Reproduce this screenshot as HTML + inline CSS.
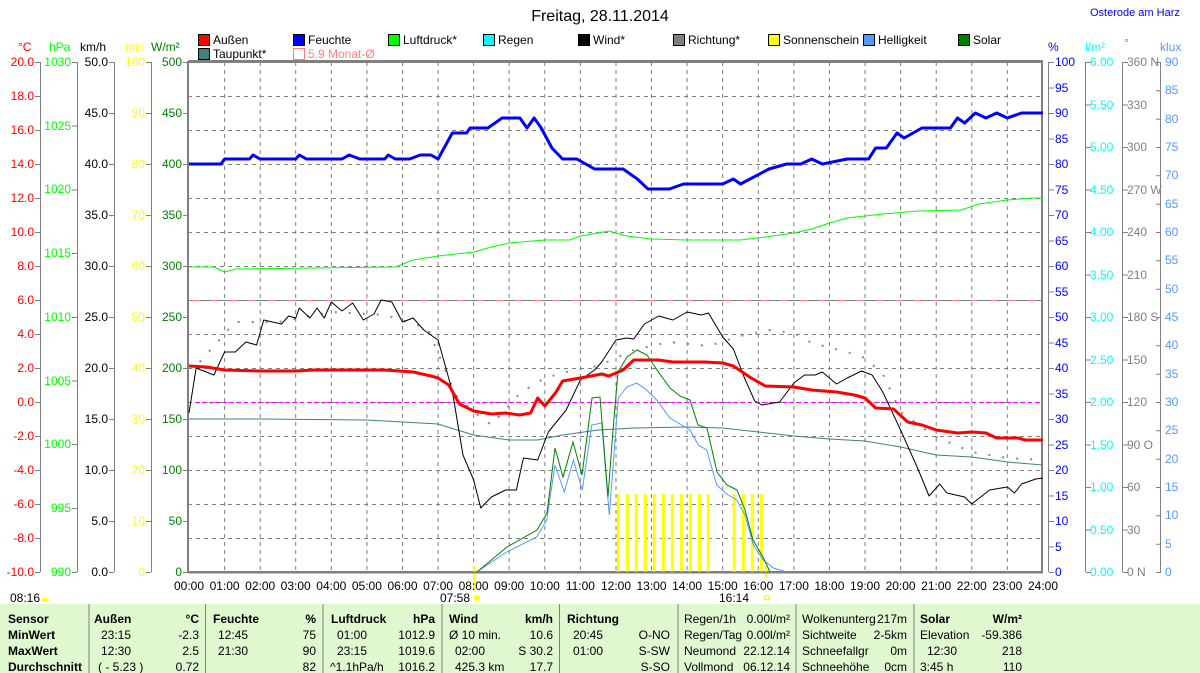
<!DOCTYPE html>
<html><head><meta charset="utf-8"><style>
html,body{margin:0;padding:0;background:#fff;width:1200px;height:673px;overflow:hidden}
svg{display:block;font-family:"Liberation Sans",sans-serif;font-size:12px}
.b{font-weight:bold}
</style></head><body>
<svg width="1200" height="673" viewBox="0 0 1200 673" xmlns="http://www.w3.org/2000/svg">
<text x="600" y="21" text-anchor="middle" font-size="16">Freitag, 28.11.2014</text>
<text x="1090" y="16" fill="#0000ff" font-size="11">Osterode am Harz</text>

<!-- legend -->
<g stroke="#000" stroke-width="1">
<rect x="198.5" y="34.5" width="11" height="11" fill="#ff0000"/>
<rect x="293.5" y="34.5" width="11" height="11" fill="#0000ff"/>
<rect x="388.5" y="34.5" width="11" height="11" fill="#00ff00"/>
<rect x="483.5" y="34.5" width="11" height="11" fill="#00ffff"/>
<rect x="578.5" y="34.5" width="11" height="11" fill="#000"/>
<rect x="673.5" y="34.5" width="11" height="11" fill="#808080"/>
<rect x="768.5" y="34.5" width="11" height="11" fill="#ffff00"/>
<rect x="863.5" y="34.5" width="11" height="11" fill="#5599ff"/>
<rect x="958.5" y="34.5" width="11" height="11" fill="#008000"/>
<rect x="198.5" y="48.5" width="11" height="11" fill="#408080"/>
</g>
<rect x="293.5" y="48.5" width="11" height="11" fill="none" stroke="#ff8080"/>
<g font-size="12">
<text x="213" y="44">Außen</text><text x="308" y="44">Feuchte</text><text x="403" y="44">Luftdruck*</text>
<text x="498" y="44">Regen</text><text x="593" y="44">Wind*</text><text x="688" y="44">Richtung*</text>
<text x="783" y="44">Sonnenschein</text><text x="878" y="44">Helligkeit</text><text x="973" y="44">Solar</text>
<text x="213" y="58">Taupunkt*</text><text x="308" y="58" fill="#ff8080">5.9 Monat-Ø</text>
</g>

<!-- axis headers -->
<text x="18" y="51" fill="#ff0000">°C</text>
<text x="49" y="51" fill="#00ff00">hPa</text>
<text x="80" y="51">km/h</text>
<text x="125" y="51" fill="#ffff00">min</text>
<text x="151" y="51" fill="#008000">W/m²</text>
<text x="1048" y="51" fill="#0000ff">%</text>
<text x="1085" y="51" fill="#00ffff">l/m²</text>
<text x="1124" y="47" fill="#808080">°</text>
<text x="1160" y="51" fill="#5599ff">klux</text>

<!-- axis lines -->
<g stroke="#808080" stroke-width="1">
<line x1="40.5" y1="62" x2="40.5" y2="572"/>
<line x1="77.5" y1="62" x2="77.5" y2="572"/>
<line x1="114.5" y1="62" x2="114.5" y2="572"/>
<line x1="151.5" y1="62" x2="151.5" y2="572"/>
<line x1="1048.5" y1="62" x2="1048.5" y2="572"/>
<line x1="1085.5" y1="62" x2="1085.5" y2="572"/>
<line x1="1122.5" y1="62" x2="1122.5" y2="572"/>
<line x1="1160.5" y1="62" x2="1160.5" y2="572"/>
</g>

<g fill="#ff0000" text-anchor="end">
<text x="34" y="66">20.0</text><text x="34" y="100">18.0</text><text x="34" y="134">16.0</text><text x="34" y="168">14.0</text>
<text x="34" y="202">12.0</text><text x="34" y="236">10.0</text><text x="34" y="270">8.0</text><text x="34" y="304">6.0</text>
<text x="34" y="338">4.0</text><text x="34" y="372">2.0</text><text x="34" y="406">0.0</text><text x="34" y="440">-2.0</text>
<text x="34" y="474">-4.0</text><text x="34" y="508">-6.0</text><text x="34" y="542">-8.0</text><text x="34" y="576">-10.0</text>
</g>
<g stroke="#808080"><path d="M35 62.5h5M35 96.5h5M35 130.5h5M35 164.5h5M35 198.5h5M35 232.5h5M35 266.5h5M35 300.5h5M35 334.5h5M35 368.5h5M35 402.5h5M35 436.5h5M35 470.5h5M35 504.5h5M35 538.5h5M35 572.5h5"/></g>
<g fill="#00ff00" text-anchor="end">
<text x="71" y="66">1030</text><text x="71" y="130">1025</text><text x="71" y="193">1020</text><text x="71" y="257">1015</text>
<text x="71" y="321">1010</text><text x="71" y="385">1005</text><text x="71" y="448">1000</text><text x="71" y="512">995</text><text x="71" y="576">990</text>
</g>
<g stroke="#808080"><path d="M72 62.5h5M72 126h5M72 190h5M72 253.5h5M72 317.5h5M72 381h5M72 444.5h5M72 508.5h5M72 572.5h5"/></g>
<g text-anchor="end">
<text x="108" y="66">50.0</text><text x="108" y="117">45.0</text><text x="108" y="168">40.0</text><text x="108" y="219">35.0</text>
<text x="108" y="270">30.0</text><text x="108" y="321">25.0</text><text x="108" y="372">20.0</text><text x="108" y="423">15.0</text>
<text x="108" y="474">10.0</text><text x="108" y="525">5.0</text><text x="108" y="576">0.0</text>
</g>
<g text-anchor="end" fill="#ffff00">
<text x="145" y="66">100</text><text x="145" y="117">90</text><text x="145" y="168">80</text><text x="145" y="219">70</text>
<text x="145" y="270">60</text><text x="145" y="321">50</text><text x="145" y="372">40</text><text x="145" y="423">30</text>
<text x="145" y="474">20</text><text x="145" y="525">10</text><text x="145" y="576">0</text>
</g>
<g text-anchor="end" fill="#008000">
<text x="182" y="66">500</text><text x="182" y="117">450</text><text x="182" y="168">400</text><text x="182" y="219">350</text>
<text x="182" y="270">300</text><text x="182" y="321">250</text><text x="182" y="372">200</text><text x="182" y="423">150</text>
<text x="182" y="474">100</text><text x="182" y="525">50</text><text x="182" y="576">0</text>
</g>
<g stroke="#808080"><path d="M109 62.5h5M109 113.5h5M109 164.5h5M109 215.5h5M109 266.5h5M109 317.5h5M109 368.5h5M109 419.5h5M109 470.5h5M109 521.5h5M109 572.5h5
M146 62.5h5M146 113.5h5M146 164.5h5M146 215.5h5M146 266.5h5M146 317.5h5M146 368.5h5M146 419.5h5M146 470.5h5M146 521.5h5M146 572.5h5
M183 62.5h5M183 113.5h5M183 164.5h5M183 215.5h5M183 266.5h5M183 317.5h5M183 368.5h5M183 419.5h5M183 470.5h5M183 521.5h5M183 572.5h5"/></g>

<g fill="#0000ff">
<text x="1055" y="66">100</text><text x="1055" y="92">95</text><text x="1055" y="117">90</text><text x="1055" y="143">85</text>
<text x="1055" y="168">80</text><text x="1055" y="194">75</text><text x="1055" y="219">70</text><text x="1055" y="245">65</text>
<text x="1055" y="270">60</text><text x="1055" y="296">55</text><text x="1055" y="321">50</text><text x="1055" y="347">45</text>
<text x="1055" y="372">40</text><text x="1055" y="398">35</text><text x="1055" y="423">30</text><text x="1055" y="449">25</text>
<text x="1055" y="474">20</text><text x="1055" y="500">15</text><text x="1055" y="525">10</text><text x="1055" y="551">5</text><text x="1055" y="576">0</text>
</g>
<g fill="#00ffff">
<text x="1090" y="66">6.00</text><text x="1090" y="109">5.50</text><text x="1090" y="151">5.00</text><text x="1090" y="194">4.50</text>
<text x="1090" y="236">4.00</text><text x="1090" y="279">3.50</text><text x="1090" y="321">3.00</text><text x="1090" y="364">2.50</text>
<text x="1090" y="406">2.00</text><text x="1090" y="449">1.50</text><text x="1090" y="491">1.00</text><text x="1090" y="534">0.50</text><text x="1090" y="576">0.00</text>
</g>
<g fill="#808080">
<text x="1127" y="66">360 N</text><text x="1127" y="109">330</text><text x="1127" y="151">300</text><text x="1127" y="194">270 W</text>
<text x="1127" y="236">240</text><text x="1127" y="279">210</text><text x="1127" y="321">180 S</text><text x="1127" y="364">150</text>
<text x="1127" y="406">120</text><text x="1127" y="449">90  O</text><text x="1127" y="491">60</text><text x="1127" y="534">30</text><text x="1127" y="576">0   N</text>
</g>
<g fill="#5599ff">
<text x="1165" y="66">90</text><text x="1165" y="94">85</text><text x="1165" y="123">80</text><text x="1165" y="151">75</text>
<text x="1165" y="179">70</text><text x="1165" y="208">65</text><text x="1165" y="236">60</text><text x="1165" y="264">55</text>
<text x="1165" y="293">50</text><text x="1165" y="321">45</text><text x="1165" y="349">40</text><text x="1165" y="378">35</text>
<text x="1165" y="406">30</text><text x="1165" y="434">25</text><text x="1165" y="463">20</text><text x="1165" y="491">15</text>
<text x="1165" y="519">10</text><text x="1165" y="548">5</text><text x="1165" y="576">0</text>
</g>
<g stroke="#808080"><path d="M1049 62.5h5M1049 88h5M1049 113.5h5M1049 139h5M1049 164.5h5M1049 190h5M1049 215.5h5M1049 241h5M1049 266.5h5M1049 292h5M1049 317.5h5M1049 343h5M1049 368.5h5M1049 394h5M1049 419.5h5M1049 445h5M1049 470.5h5M1049 496h5M1049 521.5h5M1049 547h5M1049 572.5h5
M1086 62.5h5M1086 105h5M1086 147.5h5M1086 190h5M1086 232.5h5M1086 275h5M1086 317.5h5M1086 360h5M1086 402.5h5M1086 445h5M1086 487.5h5M1086 530h5M1086 572.5h5
M1123 62.5h5M1123 105h5M1123 147.5h5M1123 190h5M1123 232.5h5M1123 275h5M1123 317.5h5M1123 360h5M1123 402.5h5M1123 445h5M1123 487.5h5M1123 530h5M1123 572.5h5
M1161 62.5h-5M1161 90.8h-5M1161 119.2h-5M1161 147.5h-5M1161 175.8h-5M1161 204.2h-5M1161 232.5h-5M1161 260.8h-5M1161 289.2h-5M1161 317.5h-5M1161 345.8h-5M1161 374.2h-5M1161 402.5h-5M1161 430.8h-5M1161 459.2h-5M1161 487.5h-5M1161 515.8h-5M1161 544.2h-5M1161 572.5h-5"/></g>

<!-- grid -->
<g stroke="#808080" stroke-dasharray="4,4" stroke-width="1">
<path d="M224.6 62V572M260.2 62V572M295.7 62V572M331.3 62V572M366.9 62V572M402.5 62V572M438.1 62V572M473.6 62V572M509.2 62V572M544.8 62V572M580.4 62V572M616 62V572M651.5 62V572M687.1 62V572M722.7 62V572M758.3 62V572M793.9 62V572M829.4 62V572M865 62V572M900.6 62V572M936.2 62V572M971.8 62V572M1007.3 62V572"/>
<path d="M188 96.5H1043M188 130.5H1043M188 164.5H1043M188 198.5H1043M188 232.5H1043M188 266.5H1043M188 334.5H1043M188 368.5H1043M188 402.5H1043M188 436.5H1043M188 470.5H1043M188 504.5H1043M188 538.5H1043"/>
</g>
<line x1="188" y1="300.5" x2="1043" y2="300.5" stroke="#808080"/>
<line x1="188" y1="300.5" x2="1043" y2="300.5" stroke="#ff8080" stroke-dasharray="7,12" stroke-dashoffset="-4"/>
<line x1="188" y1="402.5" x2="1043" y2="402.5" stroke="#ff00ff" stroke-dasharray="4,3"/>
<rect x="188" y="62" width="854" height="510" fill="none" stroke="#808080" stroke-width="2"/>
<line x1="188.5" y1="61" x2="1043" y2="61" stroke="#808080" stroke-width="2"/>

<g stroke="#ffff00" stroke-width="3">
<path d="M618.3 494V572M627.3 494V572M636.3 494V572M645.3 494V572M654.3 494V572M663.3 494V572M672.3 494V572M681.3 494V572M690.3 494V572M699.3 494V572M708.3 494V572M734.3 494V572M743.3 494V572M752.3 494V572M761.3 494V572"/>
<path d="M474 566V590M766 566V578" stroke-width="2"/>
</g>

<g transform="translate(189,0) scale(35.58,1)" fill="none" stroke-linejoin="round">
<polyline vector-effect="non-scaling-stroke" stroke="#00ff00" stroke-width="1" points="0,267 0.7,267 1.0,272 1.3,269 3.5,268 5.8,267 6.3,260 7.0,256 8.0,252 8.5,247 9.0,243 10.0,240 10.7,240 11.0,236 11.8,231 12.3,236 13.0,239 14.0,240 15.5,240 16.2,237 17.0,233 17.5,229 18.0,223 18.5,218 19.5,214 20.5,211 21.7,210 22.2,204 23.0,200 23.7,198 24,198"/>
<polyline vector-effect="non-scaling-stroke" stroke="#408080" stroke-width="1" points="0,419 2,419 5,420 6,422 7,424 8,435 9,440 9.8,440 10.5,435 11.5,430 12.5,428 14,427 15,428 16,432 17,436 18,439 19,441 20,447 21,455 22,457 23,462 24,465"/>
<polyline vector-effect="non-scaling-stroke" stroke="#888" stroke-width="2" stroke-dasharray="2,12" points="0.3,362 1.3,322 2.5,322 4,312 5.5,315 6.7,328 7.5,395 8,412 8.5,425 9.3,393 10,378 10.8,370 11.5,366 12.5,350 13.5,342 14.6,346 15.5,336 16.3,330 17,333 17.5,343 18.5,352 19,358 19.5,374 20,412 21,437 22,452 23,458 24,460"/>
<polyline vector-effect="non-scaling-stroke" stroke="#000" stroke-width="1" points="0,413 0.2,368 0.7,375 1.0,352 1.3,352 1.6,342 1.9,345 2.1,320 2.6,324 2.8,316 3.0,318 3.1,308 3.4,318 3.6,308 3.8,318 4.0,302 4.3,311 4.6,303 4.9,320 5.2,314 5.4,300 5.7,302 6.0,322 6.3,318 6.6,330 7.0,340 7.4,391 7.7,455 8.0,480 8.2,508 8.5,497 8.9,490 9.2,490 9.4,458 9.8,460 10.1,432 10.6,410 11.0,380 11.4,370 11.6,362 12.0,340 12.3,338 12.5,339 12.8,324 13.2,316 13.6,320 14.0,312 14.4,315 14.6,313 15.0,337 15.3,349 15.6,377 15.9,401 16.1,405 16.6,402 17.0,383 17.3,375 17.6,375 17.8,372 18.2,384 18.5,378 18.9,371 19.2,375 19.5,392 20.0,430 20.5,470 20.8,496 21.1,484 21.3,493 21.8,497 22.0,504 22.5,490 23.0,487 23.2,493 23.4,484 23.8,479 24,478"/>
<polyline vector-effect="non-scaling-stroke" stroke="#ff0000" stroke-width="3" points="0,366 0.5,367 1,370 2,371 3,371 3.5,370 5.5,370 6.3,372 6.8,376 7.0,378 7.3,385 7.6,404 8,411 8.5,414 8.9,413 9.3,415 9.6,413 9.8,398 10.0,406 10.3,393 10.5,381 11,378 11.6,374 11.8,376 12.2,370 12.5,360 13.2,360 13.6,362 14.5,362 15,363 15.3,366 15.8,378 16.2,386 17.0,387 17.5,390 18.2,392 18.7,395 19.0,398 19.3,408 19.8,409 20.2,422 20.6,425 21.0,430 21.6,433 22.0,432 22.4,433 22.7,438 23.3,438 23.5,440 24,440"/>
<polyline vector-effect="non-scaling-stroke" stroke="#0000ff" stroke-width="3" points="0,164 0.9,164 1.0,159 1.7,159 1.8,155 2.0,159 3.0,159 3.1,155 3.3,159 4.3,159 4.5,155 4.8,159 5.5,159 5.6,155 5.8,159 6.2,159 6.5,155 6.8,155 7.0,159 7.4,133 7.8,133 7.9,128 8.4,128 8.8,118 9.3,118 9.5,128 9.7,118 9.9,128 10.2,148 10.5,159 10.9,159 11.4,169 12.2,169 12.6,179 12.9,189 13.5,189 13.9,184 15.0,184 15.3,179 15.5,184 16.3,169 16.8,164 17.2,164 17.5,159 17.8,164 18.5,159 19.1,159 19.3,148 19.6,148 19.9,133 20.1,138 20.6,128 21.4,128 21.6,118 21.8,123 22.1,113 22.4,118 22.7,113 23.0,118 23.4,113 24,113"/>
</g>
<polyline fill="none" stroke="#5599ff" stroke-width="1" points="440,572 476.7,572 506.7,552 536.7,537 546.7,520 555,465 564.3,492 573.3,460 582.3,490 591.7,425 601.7,423 609.3,515 618.3,398 626.7,387 636.7,383 646.7,390 656.7,400 670,418 690,430 698.3,445 706.7,450 716.7,485 726.7,494 736.7,500 745,515 753.3,545 763.3,560 773.3,568 786.7,572"/>
<polyline fill="none" stroke="#008000" stroke-width="1" points="440,572 477,572 507,547 537,530 547,513 555,448 563,477 573,442 582,475 592,398 600,397 608,497 613,430 618,372 627,357 637,350 647,355 657,370 670,388 680,396 690,400 698,425 707,428 717,472 727,485 737,490 745,510 753,540 763,557 770,572"/>
<line x1="188" y1="572.5" x2="1043" y2="572.5" stroke="#808080" stroke-width="2"/>

<g text-anchor="middle">
<text x="189" y="590">00:00</text><text x="224.6" y="590">01:00</text><text x="260.2" y="590">02:00</text><text x="295.7" y="590">03:00</text>
<text x="331.3" y="590">04:00</text><text x="366.9" y="590">05:00</text><text x="402.5" y="590">06:00</text><text x="438.1" y="590">07:00</text>
<text x="473.6" y="590">08:00</text><text x="509.2" y="590">09:00</text><text x="544.8" y="590">10:00</text><text x="580.4" y="590">11:00</text>
<text x="616" y="590">12:00</text><text x="651.5" y="590">13:00</text><text x="687.1" y="590">14:00</text><text x="722.7" y="590">15:00</text>
<text x="758.3" y="590">16:00</text><text x="793.9" y="590">17:00</text><text x="829.4" y="590">18:00</text><text x="865" y="590">19:00</text>
<text x="900.6" y="590">20:00</text><text x="936.2" y="590">21:00</text><text x="971.8" y="590">22:00</text><text x="1007.3" y="590">23:00</text>
<text x="1043" y="590">24:00</text>
</g>
<text x="10" y="602">08:16</text>
<path d="M41 601 a4 3 0 0 1 8 0z" fill="#ffff00"/>
<text x="440" y="602">07:58</text>
<circle cx="477" cy="598" r="3" fill="#ffff00"/>
<text x="719" y="602">16:14</text>
<rect x="764.5" y="595.5" width="4" height="4" fill="none" stroke="#ffff00"/>

<rect x="0" y="604" width="1200" height="69" fill="#e0f8d0"/>
<g stroke="#808080"><path d="M89 604V673M205.5 604V673M323 604V673M442 604V673M559.5 604V673M678 604V673M796 604V673M914 604V673"/></g>
<g class="b">
<text x="8" y="623">Sensor</text><text x="8" y="639">MinWert</text><text x="8" y="655">MaxWert</text><text x="8" y="671">Durchschnitt</text>
<text x="94" y="623">Außen</text><text x="199" y="623" text-anchor="end">°C</text>
<text x="213" y="623">Feuchte</text><text x="316" y="623" text-anchor="end">%</text>
<text x="331" y="623">Luftdruck</text><text x="435" y="623" text-anchor="end">hPa</text>
<text x="449" y="623">Wind</text><text x="553" y="623" text-anchor="end">km/h</text>
<text x="567" y="623">Richtung</text>
<text x="920" y="623">Solar</text><text x="1022" y="623" text-anchor="end">W/m²</text>
</g>
<g>
<text x="101" y="639">23:15</text><text x="101" y="655">12:30</text><text x="98" y="671">( - 5.23 )</text>
<text x="218" y="639">12:45</text><text x="218" y="655">21:30</text>
<text x="337" y="639">01:00</text><text x="337" y="655">23:15</text><text x="330" y="671">^1.1hPa/h</text>
<text x="449" y="639">Ø 10 min.</text><text x="455" y="655">02:00</text><text x="455" y="671">425.3 km</text>
<text x="573" y="639">20:45</text><text x="573" y="655">01:00</text>
<text x="684" y="623">Regen/1h</text><text x="684" y="639">Regen/Tag</text><text x="684" y="655">Neumond</text><text x="684" y="671">Vollmond</text>
<text x="802" y="623">Wolkenunterg</text><text x="802" y="639">Sichtweite</text><text x="802" y="655">Schneefallgr</text><text x="802" y="671">Schneehöhe</text>
<text x="920" y="639">Elevation</text><text x="927" y="655">12:30</text><text x="920" y="671">3:45 h</text>
</g>
<g text-anchor="end">
<text x="199" y="639">-2.3</text><text x="199" y="655">2.5</text><text x="199" y="671">0.72</text>
<text x="316" y="639">75</text><text x="316" y="655">90</text><text x="316" y="671">82</text>
<text x="435" y="639">1012.9</text><text x="435" y="655">1019.6</text><text x="435" y="671">1016.2</text>
<text x="553" y="639">10.6</text><text x="553" y="655">S 30.2</text><text x="553" y="671">17.7</text>
<text x="670" y="639">O-NO</text><text x="670" y="655">S-SW</text><text x="670" y="671">S-SO</text>
<text x="790" y="623">0.00l/m²</text><text x="790" y="639">0.00l/m²</text><text x="790" y="655">22.12.14</text><text x="790" y="671">06.12.14</text>
<text x="907" y="623">217m</text><text x="907" y="639">2-5km</text><text x="907" y="655">0m</text><text x="907" y="671">0cm</text>
<text x="1022" y="639">-59.386</text><text x="1022" y="655">218</text><text x="1022" y="671">110</text>
</g>
</svg>
</body></html>
